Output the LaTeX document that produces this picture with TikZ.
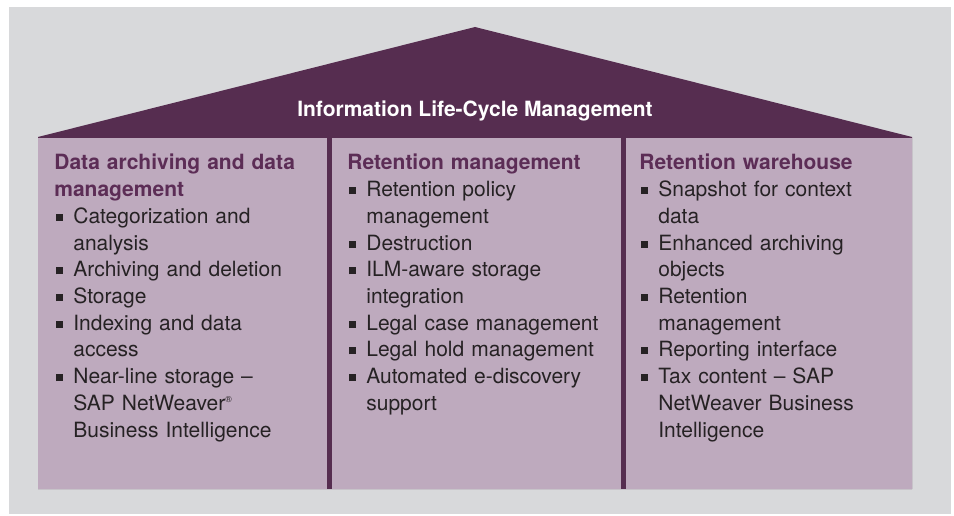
\documentclass[tikz,border=0pt]{standalone}
\usepackage{fontspec}
\setmainfont{TeX Gyre Heros}
\usepackage{xcolor}
\usepackage{tikz}

\definecolor{ilmdark}{RGB}{86,45,80}
\definecolor{ilmlight}{RGB}{190,170,190}
\definecolor{ilmgray}{RGB}{216,217,219}
\definecolor{ilmhead}{RGB}{92,45,86}
\definecolor{ilmtext}{RGB}{38,34,36}

% heading lines, bullets and hanging lines of the columns
\newcommand{\hd}[1]{\textcolor{ilmhead}{\bfseries #1}}
\newcommand{\bul}{\hspace*{0.04cm}\rule[0.05cm]{0.14cm}{0.14cm}\hspace*{0.2cm}}
\newcommand{\cont}{\hspace*{0.38cm}}

\tikzset{
  colbox/.style={anchor=base west, align=left, text width=5.6cm, inner sep=0pt,
    text=ilmtext, font=\fontsize{11.95}{15.2}\selectfont},
  roofbox/.style={anchor=base, inner sep=0pt, text=white,
    font=\fontsize{11.95}{15.2}\selectfont\bfseries}
}

\begin{document}
\begin{tikzpicture}
\useasboundingbox[fill=white] (0,0) rectangle (19.08,10.3);
\fill[ilmgray] (0.18,0.02) rectangle (19.02,10.16);
% roof and frame
\fill[ilmdark] (0.76,0.52)--(0.76,7.56)--(9.5,9.76)--(18.24,7.56)--(18.24,0.52)--cycle;
% three columns
\fill[ilmlight] (0.76,0.52) rectangle (6.54,7.54);
\fill[ilmlight] (6.64,0.52) rectangle (12.42,7.54);
\fill[ilmlight] (12.52,0.52) rectangle (18.24,7.54);

\node[roofbox] (ilm) at (9.5,7.96) {Information Life-Cycle Management};

\node[colbox] (datacol) at (1.08,6.9) {
  \hd{Data archiving and data}\\
  \hd{management}\\
  \bul Categorization and\\
  \cont analysis\\
  \bul Archiving and deletion\\
  \bul Storage\\
  \bul Indexing and data\\
  \cont access\\
  \bul Near-line storage --\\
  \cont SAP NetWeaver\textsuperscript{\tiny ®}\\
  \cont Business Intelligence};

\node[colbox] (retcol) at (6.94,6.9) {
  \hd{Retention management}\\
  \bul Retention policy\\
  \cont management\\
  \bul Destruction\\
  \bul ILM-aware storage\\
  \cont integration\\
  \bul Legal case management\\
  \bul Legal hold management\\
  \bul Automated e-discovery\\
  \cont support};

\node[colbox] (whcol) at (12.78,6.9) {
  \hd{Retention warehouse}\\
  \bul Snapshot for context\\
  \cont data\\
  \bul Enhanced archiving\\
  \cont objects\\
  \bul Retention\\
  \cont management\\
  \bul Reporting interface\\
  \bul Tax content -- SAP\\
  \cont NetWeaver Business\\
  \cont Intelligence};
\end{tikzpicture}
\end{document}
